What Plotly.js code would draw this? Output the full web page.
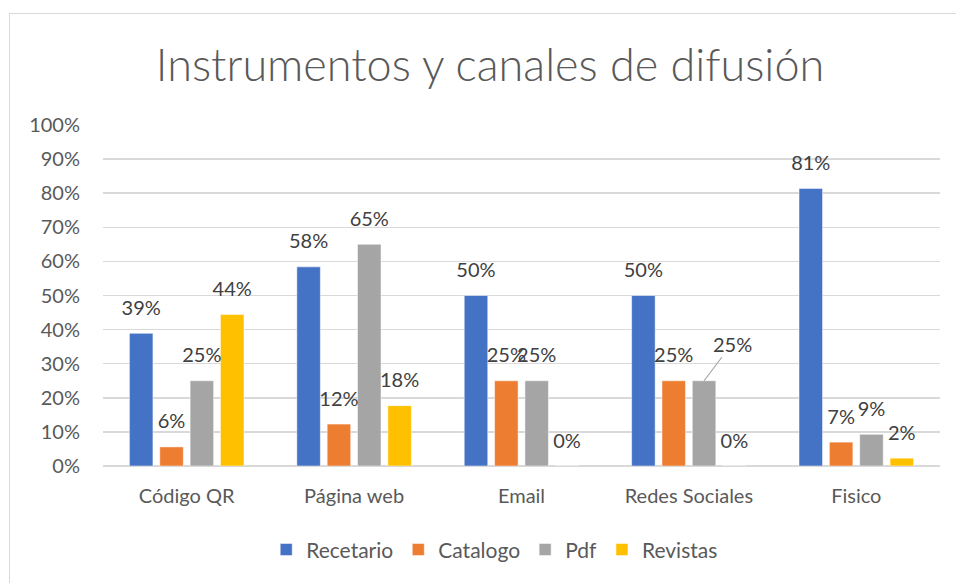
<!DOCTYPE html>
<html>
<head>
<meta charset="utf-8">
<script src="https://cdn.plot.ly/plotly-3.0.1.min.js"></script>
<style>
  body { margin: 0; background: #fff; }
  #plot { position: absolute; left: 0; top: 0; width: 956px; height: 583px; }
  #frame { position: absolute; left: 9px; top: 13px; width: 980px; height: 600px;
           border: 1px solid #d9d9d9; pointer-events: none; }
</style>
</head>
<body>
<div id="plot"></div>
<div id="frame"></div>
<script>
// categories and series
var canales = ["Código QR", "Página web", "Email", "Redes Sociales", "Fisico"];
var recetario = [0.389, 0.584, 0.50, 0.50, 0.814];
var catalogo = [0.056, 0.123, 0.25, 0.25, 0.07];
var pdf = [0.25, 0.65, 0.25, 0.25, 0.093];
var revistas = [0.444, 0.177, 0, 0, 0.023];

var nombres = ["Recetario", "Catalogo", "Pdf", "Revistas"];
var colores = ["#4472C4", "#ED7D31", "#A5A5A5", "#FFC000"];
var series = [recetario, catalogo, pdf, revistas];

var bargap = 0.275;
var pct = function (v) { return Math.round(v * 100) + "%"; };

var data = [];
series.forEach(function (vals, i) {
  data.push({
    x: canales,
    y: vals,
    name: nombres[i],
    type: "bar",
    offsetgroup: String(i),
    marker: { color: colores[i], line: { color: "#ffffff", width: 0.5 } },
    hoverinfo: "none"
  });
});

// data labels as grouped text points so they sit a bit above the bars, like Excel
series.forEach(function (vals, i) {
  var labels = vals.map(pct);
  if (i === 2) labels[3] = ""; // this one gets a leader line below
  data.push({
    x: canales,
    y: vals,
    type: "scatter",
    mode: "markers+text",
    offsetgroup: String(i),
    text: labels,
    textposition: "top center",
    marker: { size: 20, opacity: 0 },
    textfont: { family: "Lato", size: 20, color: "#404040" },
    cliponaxis: false,
    showlegend: false,
    hoverinfo: "none"
  });
});

// offset of the Pdf bar inside its group, from the layout gaps
var plotW = 956 - 103 - 16;
var slot = plotW / canales.length * (1 - bargap) / series.length;

var layout = {
  width: 956,
  height: 583,
  margin: { l: 103, r: 16, t: 125, b: 117 },
  paper_bgcolor: "#ffffff",
  plot_bgcolor: "#ffffff",
  font: { family: "Lato", color: "#595959" },
  title: {
    text: "Instrumentos y canales de difusión",
    font: { family: "Lato", size: 45, weight: 300, color: "#595959" },
    x: 0.5126, xanchor: "center",
    y: 0.888, yanchor: "middle"
  },
  barmode: "group",
  bargap: bargap,
  bargroupgap: 0.225,
  scattermode: "group",
  scattergap: bargap,
  xaxis: {
    tickfont: { size: 20, color: "#595959" },
    ticks: "outside", ticklen: 12, tickcolor: "rgba(0,0,0,0)",
    showline: false, zeroline: false
  },
  yaxis: {
    range: [0, 1],
    dtick: 0.1,
    tickformat: ".0%",
    tickfont: { size: 20, color: "#595959" },
    ticks: "outside", ticklen: 18, tickcolor: "rgba(0,0,0,0)",
    gridcolor: "#d9d9d9", gridwidth: 1.5,
    zeroline: true, zerolinecolor: "#d9d9d9", zerolinewidth: 1.5
  },
  annotations: [{
    x: canales[3], y: pdf[3],
    xshift: slot * 0.5,
    text: pct(pdf[3]),
    showarrow: true, arrowhead: 0, arrowwidth: 1.2, arrowcolor: "#a5a5a5",
    ax: 28, ay: -37,
    font: { family: "Lato", size: 20, color: "#404040" }
  }],
  showlegend: true,
  legend: {
    orientation: "h",
    x: 0.468, xanchor: "center",
    y: -0.246, yanchor: "middle",
    font: { size: 21, color: "#595959" },
    itemwidth: 30
  }
};

Plotly.newPlot("plot", data, layout, { displayModeBar: false, staticPlot: true });
</script>
</body>
</html>
